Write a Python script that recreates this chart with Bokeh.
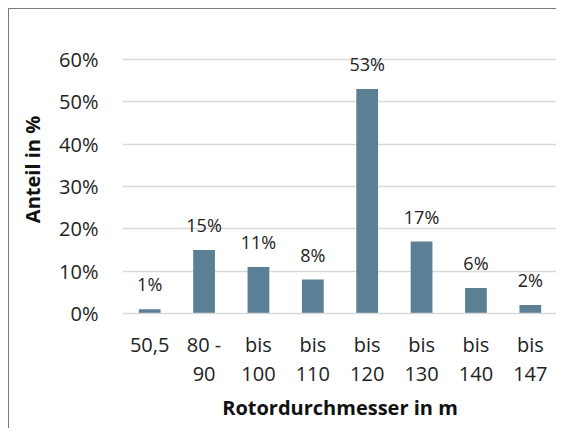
from bokeh.plotting import figure
from bokeh.models import ColumnDataSource, LabelSet, FixedTicker, PrintfTickFormatter, FactorRange, Range1d
from bokeh.core.properties import value
from bokeh.embed import file_html
from bokeh.resources import INLINE

categories = ["50,5", "80 -\n90", "bis\n100", "bis\n110", "bis\n120", "bis\n130", "bis\n140", "bis\n147"]
shares = [1, 15, 11, 8, 53, 17, 6, 2]
y_ticks = [0, 10, 20, 30, 40, 50, 60]

FONT = "Open Sans"
FS = "20px"
BAR = "#5B7F95"

src = ColumnDataSource(dict(cat=categories, val=shares, lab=[f"{v}%" for v in shares]))

p = figure(x_range=FactorRange(*categories), y_range=Range1d(0, 68),
           width=548, height=420, output_backend="svg", toolbar_location=None,
           min_border_left=113, min_border_right=0, min_border_top=16, min_border_bottom=116)
p.styles = {"margin-left": "8px", "margin-top": "8px",
            "border-left": "1px solid #7a7a7a", "border-top": "1px solid #7a7a7a"}
p.outline_line_color = None
p.background_fill_color = "white"
p.border_fill_color = "white"

p.vbar(x="cat", top="val", width=0.4, source=src, fill_color=BAR, line_color=None)

labels = LabelSet(x="cat", y="val", text="lab", source=src, text_align="center",
                  text_baseline="bottom", y_offset=13, text_font=value(FONT),
                  text_font_size="18px", text_color="#222222")
p.add_layout(labels)

p.xgrid.grid_line_color = None
p.ygrid.grid_line_color = "#d9d9d9"
p.ygrid.grid_line_width = 1.5
p.ygrid.ticker = FixedTicker(ticks=y_ticks)

p.yaxis.ticker = FixedTicker(ticks=y_ticks)
p.yaxis.formatter = PrintfTickFormatter(format="%d%%")
p.yaxis.axis_line_color = None
p.yaxis.major_tick_line_color = None
p.yaxis.minor_tick_line_color = None
p.yaxis.major_label_standoff = 18
p.yaxis.major_label_text_font = FONT
p.yaxis.major_label_text_font_size = FS
p.yaxis.major_label_text_color = "#222222"
p.yaxis.axis_label = "Anteil in %"
p.yaxis.axis_label_text_font = FONT
p.yaxis.axis_label_text_font_size = FS
p.yaxis.axis_label_text_font_style = "bold"
p.yaxis.axis_label_text_color = "#111111"
p.yaxis.axis_label_standoff = 10

p.xaxis.axis_line_color = "#d9d9d9"
p.xaxis.axis_line_width = 1.5
p.xaxis.major_tick_line_color = None
p.xaxis.minor_tick_line_color = None
p.xaxis.major_label_standoff = 11
p.xaxis.major_label_text_font = FONT
p.xaxis.major_label_text_font_size = FS
p.xaxis.major_label_text_line_height = 1.1
p.xaxis.major_label_text_color = "#222222"
p.xaxis.axis_label = "Rotordurchmesser in m"
p.xaxis.axis_label_text_font = FONT
p.xaxis.axis_label_text_font_size = FS
p.xaxis.axis_label_text_font_style = "bold"
p.xaxis.axis_label_text_color = "#111111"
p.xaxis.axis_label_standoff = 4

open("out.html", "w").write(file_html(p, INLINE))
